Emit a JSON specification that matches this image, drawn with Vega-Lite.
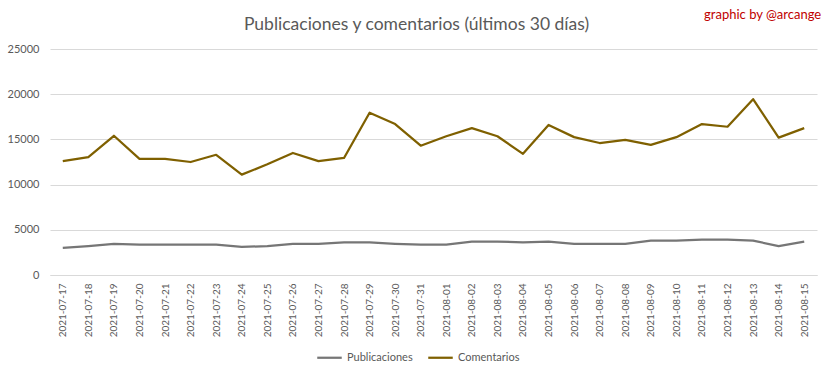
{
  "$schema": "https://vega.github.io/schema/vega-lite/v6.json",
  "autosize": "none",
  "width": 767,
  "height": 226,
  "padding": {"left": 50, "top": 49, "right": 15, "bottom": 103},
  "background": "white",
  "config": {
    "view": {"stroke": null},
    "font": "Lato"
  },
  "title": {
    "text": "Publicaciones y comentarios (últimos 30 días)",
    "fontSize": 17.5,
    "fontWeight": "normal",
    "color": "#595959",
    "font": "Lato",
    "anchor": "middle",
    "baseline": "middle",
    "dx": -17,
    "offset": -33
  },
  "layer": [
    {
      "data": {
        "values": [
          {"fecha": "2021-07-17", "Publicaciones": 3000, "Comentarios": 12600},
          {"fecha": "2021-07-18", "Publicaciones": 3200, "Comentarios": 13050},
          {"fecha": "2021-07-19", "Publicaciones": 3450, "Comentarios": 15400},
          {"fecha": "2021-07-20", "Publicaciones": 3350, "Comentarios": 12850},
          {"fecha": "2021-07-21", "Publicaciones": 3350, "Comentarios": 12850},
          {"fecha": "2021-07-22", "Publicaciones": 3350, "Comentarios": 12500},
          {"fecha": "2021-07-23", "Publicaciones": 3350, "Comentarios": 13300},
          {"fecha": "2021-07-24", "Publicaciones": 3100, "Comentarios": 11100},
          {"fecha": "2021-07-25", "Publicaciones": 3200, "Comentarios": 12250},
          {"fecha": "2021-07-26", "Publicaciones": 3450, "Comentarios": 13500},
          {"fecha": "2021-07-27", "Publicaciones": 3450, "Comentarios": 12600},
          {"fecha": "2021-07-28", "Publicaciones": 3600, "Comentarios": 12950},
          {"fecha": "2021-07-29", "Publicaciones": 3600, "Comentarios": 17950},
          {"fecha": "2021-07-30", "Publicaciones": 3450, "Comentarios": 16700},
          {"fecha": "2021-07-31", "Publicaciones": 3350, "Comentarios": 14300},
          {"fecha": "2021-08-01", "Publicaciones": 3350, "Comentarios": 15350},
          {"fecha": "2021-08-02", "Publicaciones": 3700, "Comentarios": 16250},
          {"fecha": "2021-08-03", "Publicaciones": 3700, "Comentarios": 15350},
          {"fecha": "2021-08-04", "Publicaciones": 3600, "Comentarios": 13400},
          {"fecha": "2021-08-05", "Publicaciones": 3700, "Comentarios": 16600},
          {"fecha": "2021-08-06", "Publicaciones": 3450, "Comentarios": 15250},
          {"fecha": "2021-08-07", "Publicaciones": 3450, "Comentarios": 14600},
          {"fecha": "2021-08-08", "Publicaciones": 3450, "Comentarios": 14950},
          {"fecha": "2021-08-09", "Publicaciones": 3800, "Comentarios": 14400},
          {"fecha": "2021-08-10", "Publicaciones": 3800, "Comentarios": 15250},
          {"fecha": "2021-08-11", "Publicaciones": 3900, "Comentarios": 16700},
          {"fecha": "2021-08-12", "Publicaciones": 3900, "Comentarios": 16400},
          {"fecha": "2021-08-13", "Publicaciones": 3800, "Comentarios": 19450},
          {"fecha": "2021-08-14", "Publicaciones": 3200, "Comentarios": 15200},
          {"fecha": "2021-08-15", "Publicaciones": 3700, "Comentarios": 16250}
        ]
      },
      "transform": [
        {"fold": ["Publicaciones", "Comentarios"], "as": ["serie", "valor"]}
      ],
      "mark": {"type": "line", "strokeWidth": 2.25, "strokeJoin": "round"},
      "encoding": {
        "x": {
          "field": "fecha",
          "type": "ordinal",
          "scale": {"type": "point", "padding": 0.5},
          "axis": {
            "title": null,
            "labelAngle": 270,
            "labelFontSize": 10,
            "labelColor": "#595959",
            "labelPadding": 8,
            "ticks": false,
            "domainColor": "#d9d9d9",
            "domainWidth": 1,
            "grid": false
          }
        },
        "y": {
          "field": "valor",
          "type": "quantitative",
          "scale": {"domain": [0, 25000], "nice": false},
          "axis": {
            "title": null,
            "values": [0, 5000, 10000, 15000, 20000, 25000],
            "format": "d",
            "labelFontSize": 11,
            "labelColor": "#595959",
            "labelPadding": 11,
            "ticks": false,
            "domain": false,
            "gridColor": "#d9d9d9",
            "gridWidth": 1
          }
        },
        "color": {
          "field": "serie",
          "type": "nominal",
          "scale": {
            "domain": ["Publicaciones", "Comentarios"],
            "range": ["#767676", "#7f6000"]
          },
          "legend": {
            "title": null,
            "orient": "none",
            "direction": "horizontal",
            "legendX": 266,
            "legendY": 295,
            "symbolType": "stroke",
            "symbolSize": 600,
            "symbolStrokeWidth": 2.25,
            "labelFontSize": 11,
            "labelColor": "#595959",
            "columnPadding": 10
          }
        }
      }
    },
    {
      "data": {"values": [{"fecha": "2021-08-15", "valor": 25000, "t": "graphic by @arcange"}]},
      "mark": {
        "type": "text",
        "align": "right",
        "baseline": "middle",
        "dx": 17,
        "dy": -34,
        "fontSize": 13,
        "color": "#c00000",
        "font": "Lato"
      },
      "encoding": {
        "x": {"field": "fecha", "type": "ordinal"},
        "y": {"field": "valor", "type": "quantitative"},
        "text": {"field": "t"}
      }
    }
  ]
}
